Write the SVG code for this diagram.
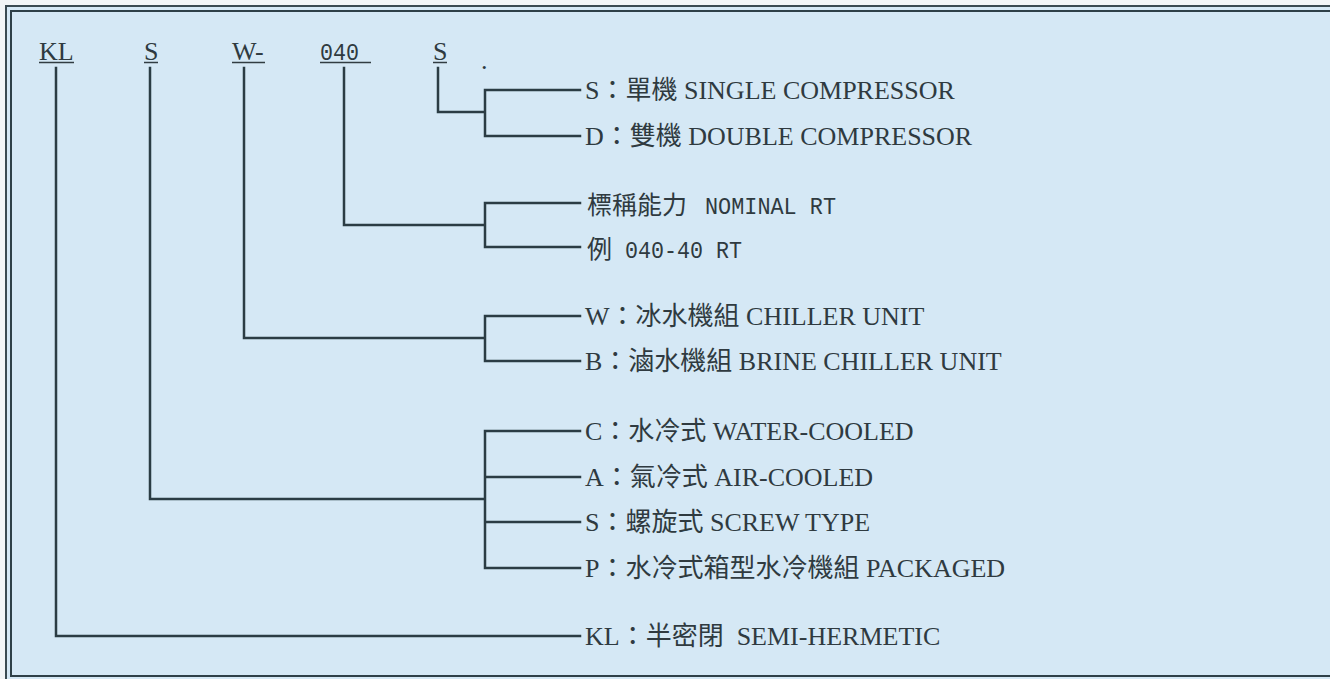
<svg xmlns="http://www.w3.org/2000/svg" width="1330" height="679" viewBox="0 0 1330 679">
<style>
.t{font-family:"Liberation Serif","Noto Sans CJK TC",serif;font-size:26px;fill:#2f3a40}
.m{font-family:"Liberation Mono","Noto Sans CJK TC",monospace;font-size:24px}
.c{font-family:"Noto Sans CJK TC",sans-serif;font-size:25px}
.ln{fill:none;stroke:#2b3c44;stroke-width:2.5;stroke-linecap:square}
.ul{stroke:#313c42;stroke-width:1.5}
</style>
<rect x="0" y="0" width="1330" height="679" fill="#f2f5f7"/>
<rect x="6" y="6" width="1340" height="700" fill="#d5e8f5" stroke="#3a4a52" stroke-width="2"/>
<rect x="11" y="11" width="1340" height="665" fill="none" stroke="#2e4048" stroke-width="2"/>

<g id="code-KL"><text class="t" x="39" y="60">KL</text><line class="ul" x1="39" y1="62.5" x2="74" y2="62.5"/></g>
<g id="code-S1"><text class="t" x="144" y="60">S</text><line class="ul" x1="144" y1="62.5" x2="158" y2="62.5"/></g>
<g id="code-W"><text class="t" x="232" y="60">W-</text><line class="ul" x1="232" y1="62.5" x2="265" y2="62.5"/></g>
<g id="code-040"><text class="t m" x="320" y="60" textLength="39" lengthAdjust="spacingAndGlyphs">040</text><line class="ul" x1="320" y1="62.5" x2="371" y2="62.5"/></g>
<g id="code-S2"><text class="t" x="433" y="60">S</text><line class="ul" x1="433" y1="62.5" x2="447" y2="62.5"/><text class="t" x="481" y="69" font-size="20">.</text></g>

<g id="connectors">
<path class="ln" d="M438 68 V112 H485 M485 90 V136 M485 90 H580 M485 136 H580"/>
<path class="ln" d="M344 68 V225 H485 M485 203 V247 M485 203 H580 M485 247 H580"/>
<path class="ln" d="M244 68 V338 H485 M485 316 V361 M485 316 H580 M485 361 H580"/>
<path class="ln" d="M150 68 V499 H485 M485 431 V568 M485 431 H580 M485 477 H580 M485 522 H580 M485 568 H580"/>
<path class="ln" d="M56 68 V636 H580"/>
</g>

<g id="opt-S"><text class="t" x="585" y="99">S：單機 SINGLE COMPRESSOR</text></g>
<g id="opt-D"><text class="t" x="585" y="145">D：雙機 DOUBLE COMPRESSOR</text></g>
<g id="opt-nominal"><text class="t" x="587" y="214"><tspan class="c">標稱能力</tspan> <tspan class="m" x="705" textLength="131" lengthAdjust="spacingAndGlyphs">NOMINAL RT</tspan></text></g>
<g id="opt-example"><text class="t" x="587" y="258"><tspan class="c">例</tspan> <tspan class="m" x="625" textLength="117" lengthAdjust="spacingAndGlyphs">040-40 RT</tspan></text></g>
<g id="opt-W"><text class="t" x="585" y="325">W：冰水機組 CHILLER UNIT</text></g>
<g id="opt-B"><text class="t" x="585" y="370">B：滷水機組 BRINE CHILLER UNIT</text></g>
<g id="opt-C"><text class="t" x="585" y="440">C：水冷式 WATER-COOLED</text></g>
<g id="opt-A"><text class="t" x="585" y="486">A：氣冷式 AIR-COOLED</text></g>
<g id="opt-S3"><text class="t" x="585" y="531">S：螺旋式 SCREW TYPE</text></g>
<g id="opt-P"><text class="t" x="585" y="577">P：水冷式箱型水冷機組 PACKAGED</text></g>
<g id="opt-KL"><text class="t" x="585" y="645" xml:space="preserve">KL：半密閉  SEMI-HERMETIC</text></g>
</svg>
